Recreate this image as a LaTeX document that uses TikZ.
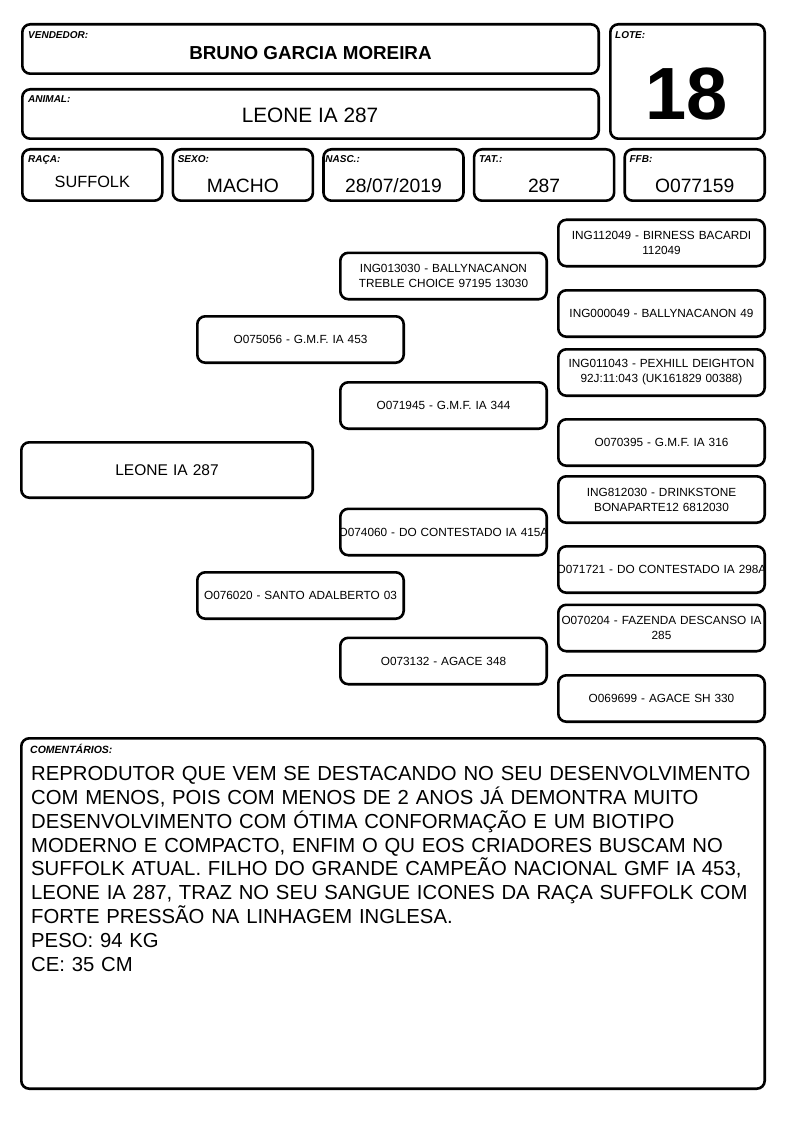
\documentclass[tikz,border=0pt]{standalone}
\usepackage{fontspec}
\setmainfont{Liberation Sans}
\usepackage{tikz}
\usetikzlibrary{positioning}

\begin{document}
\begin{tikzpicture}[
  x=1pt, y=-1pt,
  box/.style={draw, line width=2.6pt, rounded corners=8pt, inner sep=0pt},
  head/.style={box, minimum width=576.4pt, minimum height=49.4pt},
  cell/.style={box, minimum width=140pt, minimum height=51.4pt},
  ped/.style={box, minimum width=206.4pt, minimum height=46.4pt, text width=206pt,
              align=center, font=\fontsize{11.8}{15}\selectfont},
  lbl/.style={anchor=base west, inner sep=0pt, font=\fontsize{10}{12}\selectfont\bfseries\itshape},
  val/.style={anchor=base, inner sep=0pt, font=\fontsize{19.3}{22}\selectfont}
]
\path[use as bounding box, fill=white] (0,0) rectangle (794,1123);

% cabecalho
\node[head] (vend) at (310.5,49) {};
\node[lbl] (vendlbl) at ([xshift=7pt,yshift=-16pt]vend.north west) {VENDEDOR:};
\node[val, font=\fontsize{18.8}{22}\selectfont\bfseries] (vendval) at (310.5,60) {BRUNO GARCIA MOREIRA};

\node[head] (anim) at (310.5,114) {};
\node[lbl] (animlbl) at ([xshift=7pt,yshift=-15pt]anim.north west) {ANIMAL:};
\node[val, font=\fontsize{20.8}{24}\selectfont] (animval) at (310,123) {LEONE IA 287};

\node[box, minimum width=154.4pt, minimum height=114.4pt] (lote) at (687.5,81.5) {};
\node[lbl] (lotelbl) at ([xshift=6pt,yshift=-16pt]lote.north west) {LOTE:};
\node[val, font=\fontsize{74}{80}\selectfont\bfseries] (loteval) at (687,120) {18};

\node[cell] (raca) at (92.3,175) {};
\node[cell, right=8pt of raca] (sexo) {};
\node[cell, right=8pt of sexo] (nasc) {};
\node[cell, right=8pt of nasc] (tat) {};
\node[cell, right=8pt of tat] (ffb) {};

\node[lbl] (racalbl) at ([xshift=7pt,yshift=-15pt]raca.north west) {RAÇA:};
\node[lbl] (sexolbl) at ([xshift=6pt,yshift=-15pt]sexo.north west) {SEXO:};
\node[lbl] (nasclbl) at ([xshift=3pt,yshift=-15pt]nasc.north west) {NASC.:};
\node[lbl] (tatlbl) at ([xshift=6pt,yshift=-15pt]tat.north west) {TAT.:};
\node[lbl] (ffblbl) at ([xshift=6pt,yshift=-15pt]ffb.north west) {FFB:};

\node[val, font=\fontsize{16.3}{19}\selectfont] (racaval) at ([yshift=-13pt]raca.center) {SUFFOLK};
\node[val] (sexoval) at ([yshift=-18pt]sexo.center) {MACHO};
\node[val] (nascval) at ([yshift=-18pt]nasc.center) {28/07/2019};
\node[val] (tatval) at ([yshift=-18pt]tat.center) {287};
\node[val] (ffbval) at ([yshift=-18pt]ffb.center) {O077159};

% genealogia
\node[ped, minimum width=291.4pt, minimum height=55.4pt, text width=280pt,
      font=\fontsize{15.5}{18}\selectfont] (leone) at (167,470) {LEONE IA 287};

\node[ped] (pai) at (300.5,339.5) {O075056 - G.M.F. IA 453};
\node[ped] (mae) at (300.5,595.5) {O076020 - SANTO ADALBERTO 03};

\node[ped] (avopp) at (443.5,276) {ING013030 - BALLYNACANON\\TREBLE CHOICE 97195 13030};
\node[ped] (avopm) at (443.5,405.5) {O071945 - G.M.F. IA 344};
\node[ped] (avomp) at (443.5,532) {\makebox[\linewidth]{O074060 - DO CONTESTADO IA 415A}};
\node[ped] (avomm) at (443.5,661) {O073132 - AGACE 348};

\node[ped] (bis1) at (661.5,243) {ING112049 - BIRNESS BACARDI\\112049};
\node[ped] (bis2) at (661.5,313.5) {ING000049 - BALLYNACANON 49};
\node[ped] (bis3) at (661.5,372.5) {ING011043 - PEXHILL DEIGHTON\\92J:11:043 (UK161829 00388)};
\node[ped] (bis4) at (661.5,442.5) {O070395 - G.M.F. IA 316};
\node[ped] (bis5) at (661.5,499.5) {ING812030 - DRINKSTONE\\BONAPARTE12 6812030};
\node[ped] (bis6) at (661.5,569.5) {\makebox[\linewidth]{O071721 - DO CONTESTADO IA 298A}};
\node[ped] (bis7) at (661.5,628) {\makebox[\linewidth]{O070204 - FAZENDA DESCANSO IA}\\285};
\node[ped] (bis8) at (661.5,698.5) {O069699 - AGACE SH 330};

% comentarios
\node[box, minimum width=743.4pt, minimum height=350.4pt] (coment) at (393,913.5) {};
\node[lbl, font=\fontsize{10.5}{12}\selectfont\bfseries\itshape] (comentlbl)
  at ([xshift=10pt,yshift=-16pt]coment.north west) {COMENTÁRIOS:};
\node[anchor=north west, inner sep=0pt, text width=730pt, align=left,
      font=\fontsize{20.3}{23.9}\selectfont] (comenttxt) at (31,766)
  {REPRODUTOR QUE VEM SE DESTACANDO NO SEU DESENVOLVIMENTO\\
   COM MENOS, POIS COM MENOS DE 2 ANOS JÁ DEMONTRA MUITO\\
   DESENVOLVIMENTO COM ÓTIMA CONFORMAÇÃO E UM BIOTIPO\\
   MODERNO E COMPACTO, ENFIM O QU EOS CRIADORES BUSCAM NO\\
   SUFFOLK ATUAL. FILHO DO GRANDE CAMPEÃO NACIONAL GMF IA 453,\\
   LEONE IA 287, TRAZ NO SEU SANGUE ICONES DA RAÇA SUFFOLK COM\\
   FORTE PRESSÃO NA LINHAGEM INGLESA.\\
   PESO: 94 KG\\
   CE: 35 CM};
\end{tikzpicture}
\end{document}
